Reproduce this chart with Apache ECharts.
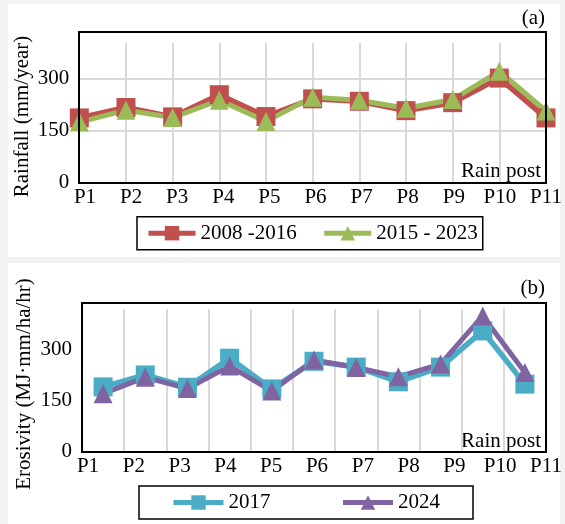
<!DOCTYPE html>
<html>
<head>
<meta charset="utf-8">
<script src="https://cdn.jsdelivr.net/npm/echarts@6/dist/echarts.min.js"></script>
<style>
html,body{margin:0;padding:0;background:#f2f2f2}
#wrap{position:relative;width:565px;height:524px;overflow:hidden}
.panel{position:absolute;background:#fff}
#pa{left:8px;top:4px;width:552px;height:253px}
#pb{left:8px;top:263px;width:552px;height:261px}
#c{position:absolute;left:0;top:0;width:565px;height:524px}
.frame{position:absolute;box-sizing:border-box;border:2px solid #000;pointer-events:none}
</style>
</head>
<body>
<div id="wrap">
  <div class="panel" id="pa"></div><div class="panel" id="pb"></div>
  <div id="c"></div>
  <div class="frame" id="fa"></div><div class="frame" id="fb"></div>
</div>
<script>
const categories = ['P1','P2','P3','P4','P5','P6','P7','P8','P9','P10','P11'];
const rain2008_2016 = [187, 217, 190, 254, 191, 242, 235, 208, 231, 302, 187];
const rain2015_2023 = [175, 209, 188, 238, 177, 247, 238, 215, 240, 322, 207];
const erosivity2017 = [190, 225, 189, 274, 184, 265, 248, 205, 248, 354, 198];
const erosivity2024 = [170, 218, 185, 251, 178, 269, 247, 220, 257, 398, 232];
const yMin = 0, yMax = 435, yStep = 150;

const FONT = 'Liberation Serif';
const FS = 21;
const GRID_COLOR = '#d9d9d9';
const W = 565, H = 524;

// plot boxes (layout only)
const PLOT_A = { l: 79.3, t: 32, r: 546, b: 182.7 };
const PLOT_B = { l: 82, t: 303.3, r: 546, b: 451.7 };
const stepA = (PLOT_A.r - PLOT_A.l) / 10;   // point spacing, top
const stepB = (PLOT_B.r - PLOT_B.l) / 11;   // band width, bottom
const innerCats = categories.slice(1, 10);  // interior gridline positions

// plot frames aligned to the grids
function placeFrame(id, f) {
  const el = document.getElementById(id);
  el.style.left = (f.l - 1) + 'px';
  el.style.top = (f.t - 1) + 'px';
  el.style.width = (f.r - f.l + 2) + 'px';
  el.style.height = (f.b - f.t + 2) + 'px';
}
placeFrame('fa', PLOT_A);
placeFrame('fb', PLOT_B);

function hiddenY(gi) {
  return { type: 'value', gridIndex: gi, show: false, min: yMin, max: yMax };
}
function gridBox(l, t, r, b) {
  return {
    left: l, top: t, width: r - l, height: b - t,
    show: false, containLabel: false, outerBoundsMode: 'none'
  };
}
function labelAxis(gi) {
  return {
    type: 'category', gridIndex: gi, data: categories, boundaryGap: false,
    axisLine: { show: false }, axisTick: { show: false }, splitLine: { show: false },
    axisLabel: { fontFamily: FONT, fontSize: FS, color: '#000', margin: 4, interval: 0 }
  };
}
function gridAxis(gi, bg) {
  return {
    type: 'category', gridIndex: gi, data: innerCats, boundaryGap: bg,
    axisLine: { show: false }, axisTick: { show: false }, axisLabel: { show: false },
    splitLine: { show: true, interval: 0, lineStyle: { color: GRID_COLOR, width: 2 } }
  };
}
function dataX(gi, bg) {
  return {
    type: 'category', gridIndex: gi, data: categories, boundaryGap: bg,
    axisLine: { show: false }, axisTick: { show: false }, axisLabel: { show: false },
    splitLine: { show: false }
  };
}
function valueY(gi, split) {
  return {
    type: 'value', gridIndex: gi, min: yMin, max: yMax, interval: yStep,
    axisLine: { show: false }, axisTick: { show: false },
    axisLabel: { fontFamily: FONT, fontSize: FS, color: '#000', margin: 10, showMaxLabel: false },
    splitLine: { show: split, showMinLine: false, showMaxLine: false,
                 lineStyle: { color: GRID_COLOR, width: 2 } }
  };
}
function lineSeries(name, data, color, symbol, xi, yi, size, lw) {
  return {
    type: 'line', name: name, data: data, xAxisIndex: xi, yAxisIndex: yi,
    symbol: symbol, symbolSize: size, showSymbol: true,
    lineStyle: { color: color, width: lw },
    itemStyle: { color: color },
    animation: false
  };
}
function txt(x, y, s, align, rot) {
  return {
    type: 'text', x: x, y: y, rotation: rot || 0,
    style: { text: s, fontFamily: FONT, fontSize: FS, fill: '#000',
             textAlign: align || 'center', textVerticalAlign: 'middle' }
  };
}
function legend(data, left, top, pad, iw, gap) {
  return {
    data: data, left: left, top: top, orient: 'horizontal',
    padding: pad, itemWidth: iw, itemHeight: 18, itemGap: gap,
    borderColor: '#000', borderWidth: 1.5, backgroundColor: '#fff',
    lineStyle: { width: 5 },
    textStyle: { fontFamily: FONT, fontSize: FS, color: '#000' },
    selectedMode: false
  };
}

const option = {
  animation: false,
  backgroundColor: 'transparent',
  grid: [
    gridBox(PLOT_A.l, PLOT_A.t, PLOT_A.r, PLOT_A.b),                     // 0 top data
    gridBox(PLOT_A.l + stepA, 43, PLOT_A.r - stepA, PLOT_A.b),           // 1 top vertical gridlines
    gridBox(85, PLOT_A.t, PLOT_A.r, PLOT_A.b),                           // 2 top labels
    gridBox(PLOT_B.l, PLOT_B.t, PLOT_B.r, PLOT_B.b),                     // 3 bottom data
    gridBox(PLOT_B.l + stepB, 309, PLOT_B.r - stepB, PLOT_B.b),          // 4 bottom vertical gridlines
    gridBox(88, PLOT_B.t, PLOT_B.r, PLOT_B.b)                            // 5 bottom labels
  ],
  xAxis: [
    dataX(0, false), gridAxis(1, false), labelAxis(2),
    dataX(3, true), gridAxis(4, true), labelAxis(5)
  ],
  yAxis: [
    valueY(0, true), hiddenY(1), hiddenY(2),
    valueY(3, false), hiddenY(4), hiddenY(5)
  ],
  legend: [
    legend(['2008 -2016', '2015 - 2023'], 137, 216.7, [6, 5, 6, 9], 47, 25),
    legend(['2017', '2024'], 139, 486, [6, 33, 6, 32], 50, 70)
  ],
  graphic: [
    txt(545, 18, '(a)', 'right'),
    txt(545, 288, '(b)', 'right'),
    txt(541, 171, 'Rain post', 'right'),
    txt(541, 441, 'Rain post', 'right'),
    txt(22, 116.5, 'Rainfall (mm/year)', 'center', Math.PI / 2),
    txt(24, 384, 'Erosivity (MJ\u00b7mm/ha/hr)', 'center', Math.PI / 2)
  ],
  series: [
    lineSeries('2008 -2016', rain2008_2016, '#c0504d', 'rect', 0, 0, 19, 5.5),
    lineSeries('2015 - 2023', rain2015_2023, '#9bbb59', 'triangle', 0, 0, 19, 5),
    lineSeries('2017', erosivity2017, '#4bacc6', 'rect', 3, 3, 19, 5.5),
    lineSeries('2024', erosivity2024, '#8064a2', 'triangle', 3, 3, 19, 5)
  ]
};

const chart = echarts.init(document.getElementById('c'), null, { renderer: 'canvas', width: W, height: H });
chart.setOption(option);
</script>
</body>
</html>
